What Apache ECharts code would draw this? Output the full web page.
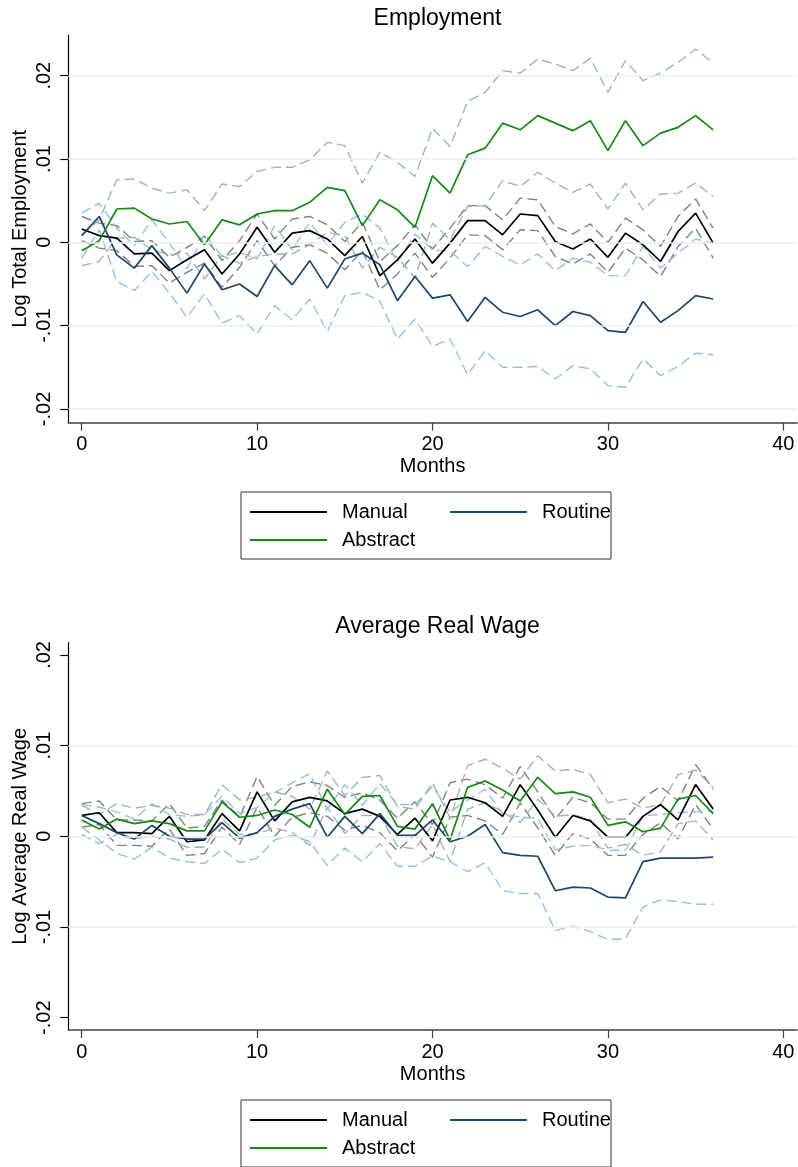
<!DOCTYPE html>
<html>
<head>
    <meta charset="utf-8" />
    <title>Employment and Average Real Wage</title>
    <script src="https://cdn.jsdelivr.net/npm/echarts@6.0.0/dist/echarts.min.js"></script>
</head>
<body style="margin:0;padding:0;background:#ffffff;">
    <div id="main" style="width:798px;height:1167px;"></div>
    <script type="text/javascript">
        /*************************************************************
        * data
        *************************************************************/
        var months = [0,1,2,3,4,5,6,7,8,9,10,11,12,13,14,15,16,17,18,19,20,21,22,23,24,25,26,27,28,29,30,31,32,33,34,35,36];
        var xTicks = [0, 10, 20, 30, 40];
        var yTicks = [-0.02, -0.01, 0, 0.01, 0.02];
        var empGrid = [-0.02, -0.01, 0, 0.01, 0.02];
        var wageGrid = [-0.01, 0, 0.01];
        var legendNames = ['Manual', 'Routine', 'Abstract'];

        // Employment
        var empManual = [0.0016,0.0008,0.0005,-0.0014,-0.0013,-0.0034,-0.0021,-0.0009,-0.0038,-0.0014, 0.0018,-0.0012,0.0011,0.0014,0.0004,-0.0016,0.0007,-0.0040,-0.0021,0.0004, -0.0025,-0.0001,0.0026,0.0026,0.0009,0.0034,0.0032,0.0001,-0.0008,0.0004, -0.0018,0.0011,-0.0003,-0.0023,0.0013,0.0035,-0.0001];
        var empManualHi = [0.0031,0.0023,0.0020,0.0001,0.0002,-0.0018,-0.0006,0.0007,-0.0022,0.0002, 0.0034,0.0004,0.0028,0.0031,0.0021,0.0001,0.0024,-0.0023,-0.0004,0.0021, -0.0008,0.0017,0.0044,0.0044,0.0027,0.0053,0.0051,0.0019,0.0010,0.0022, 0.0000,0.0029,0.0015,-0.0005,0.0031,0.0052,0.0017];
        var empManualLo = [0.0002,-0.0007,-0.0010,-0.0029,-0.0028,-0.0049,-0.0036,-0.0025,-0.0054,-0.0030, 0.0002,-0.0028,-0.0006,-0.0003,-0.0013,-0.0033,-0.0010,-0.0057,-0.0038,-0.0013, -0.0042,-0.0019,0.0009,0.0008,-0.0009,0.0015,0.0014,-0.0017,-0.0026,-0.0014, -0.0036,-0.0007,-0.0021,-0.0041,-0.0005,0.0017,-0.0019];
        var empRoutine = [0.0008,0.0031,-0.0015,-0.0031,-0.0004,-0.0031,-0.0061,-0.0026,-0.0057,-0.0050, -0.0065,-0.0028,-0.0051,-0.0022,-0.0055,-0.0020,-0.0013,-0.0027,-0.0070,-0.0041, -0.0067,-0.0063,-0.0095,-0.0066,-0.0084,-0.0089,-0.0081,-0.0100,-0.0083,-0.0088, -0.0106,-0.0108,-0.0071,-0.0096,-0.0082,-0.0064,-0.0068];
        var empRoutineHi = [0.0035,0.0047,0.0017,-0.0004,0.0027,-0.0001,-0.0032,0.0010,-0.0017,-0.0012, -0.0020,0.0020,-0.0009,0.0024,-0.0003,0.0024,0.0034,0.0017,-0.0024,0.0010, -0.0009,-0.0011,-0.0029,-0.0005,-0.0017,-0.0027,-0.0014,-0.0034,-0.0019,-0.0024, -0.0040,-0.0040,-0.0005,-0.0031,-0.0013,0.0004,-0.0001];
        var empRoutineLo = [-0.0019,0.0015,-0.0047,-0.0058,-0.0035,-0.0061,-0.0090,-0.0062,-0.0097,-0.0088, -0.0110,-0.0076,-0.0093,-0.0068,-0.0107,-0.0064,-0.0060,-0.0071,-0.0116,-0.0092, -0.0125,-0.0116,-0.0159,-0.0130,-0.0150,-0.0150,-0.0149,-0.0164,-0.0148,-0.0152, -0.0172,-0.0174,-0.0140,-0.0160,-0.0149,-0.0133,-0.0135];
        var empAbstract = [-0.0010,0.0002,0.0040,0.0041,0.0028,0.0022,0.0025,-0.0003,0.0027,0.0021, 0.0034,0.0038,0.0038,0.0048,0.0066,0.0062,0.0020,0.0051,0.0039,0.0018, 0.0080,0.0059,0.0105,0.0113,0.0143,0.0135,0.0152,0.0143,0.0134,0.0146, 0.0110,0.0146,0.0116,0.0131,0.0138,0.0152,0.0135];
        var empAbstractHi = [0.0008,0.0027,0.0075,0.0076,0.0065,0.0059,0.0063,0.0038,0.0070,0.0067, 0.0085,0.0090,0.0090,0.0099,0.0120,0.0116,0.0071,0.0108,0.0096,0.0079, 0.0137,0.0115,0.0169,0.0180,0.0206,0.0203,0.0220,0.0214,0.0206,0.0221, 0.0180,0.0218,0.0194,0.0203,0.0216,0.0232,0.0215];
        var empAbstractLo = [-0.0028,-0.0023,0.0005,0.0006,-0.0009,-0.0015,-0.0013,-0.0044,-0.0016,-0.0025, -0.0017,-0.0014,-0.0014,-0.0003,0.0012,0.0008,-0.0031,-0.0006,-0.0018,-0.0043, 0.0023,0.0003,0.0043,0.0044,0.0074,0.0067,0.0084,0.0071,0.0060,0.0070, 0.0040,0.0071,0.0039,0.0058,0.0059,0.0071,0.0055];

        // Average real wage
        var wageManual = [0.0023,0.0026,0.0004,0.0004,0.0003,0.0022,-0.0006,-0.0004,0.0025,0.0006, 0.0049,0.0017,0.0038,0.0043,0.0039,0.0025,0.0030,0.0022,0.0002,0.0020, -0.0005,0.0040,0.0043,0.0037,0.0022,0.0057,0.0029,-0.0001,0.0023,0.0017, -0.0001,-0.0001,0.0022,0.0035,0.0018,0.0057,0.0030];
        var wageManualHi = [0.0036,0.0039,0.0018,0.0018,0.0017,0.0036,0.0009,0.0011,0.0040,0.0021, 0.0066,0.0034,0.0055,0.0060,0.0056,0.0043,0.0048,0.0040,0.0020,0.0038, 0.0013,0.0059,0.0063,0.0057,0.0042,0.0077,0.0049,0.0019,0.0043,0.0037, 0.0019,0.0019,0.0042,0.0055,0.0039,0.0079,0.0052];
        var wageManualLo = [0.0010,0.0013,-0.0010,-0.0010,-0.0011,0.0008,-0.0021,-0.0019,0.0010,-0.0009, 0.0032,0.0000,0.0021,0.0026,0.0022,0.0007,0.0012,0.0004,-0.0016,0.0002, -0.0023,0.0021,0.0023,0.0017,0.0002,0.0037,0.0009,-0.0021,0.0003,-0.0003, -0.0021,-0.0021,0.0002,0.0015,-0.0003,0.0035,0.0008];
        var wageRoutine = [0.0023,0.0014,0.0004,-0.0003,0.0012,0.0000,-0.0003,-0.0003,0.0015,-0.0002, 0.0004,0.0022,0.0030,0.0036,-0.0001,0.0022,0.0003,0.0025,0.0001,0.0001, 0.0018,-0.0006,0.0000,0.0013,-0.0018,-0.0021,-0.0022,-0.0060,-0.0056,-0.0057, -0.0067,-0.0068,-0.0028,-0.0024,-0.0024,-0.0024,-0.0023];
        var wageRoutineHi = [0.0035,0.0032,0.0027,0.0019,0.0036,0.0024,0.0022,0.0024,0.0044,0.0025, 0.0032,0.0048,0.0059,0.0069,0.0030,0.0057,0.0034,0.0058,0.0035,0.0035, 0.0055,0.0027,0.0040,0.0052,0.0025,0.0021,0.0020,-0.0015,-0.0011,-0.0010, -0.0015,-0.0016,0.0023,0.0024,0.0026,0.0027,0.0028];
        var wageRoutineLo = [0.0010,-0.0004,-0.0019,-0.0025,-0.0012,-0.0024,-0.0028,-0.0030,-0.0014,-0.0029, -0.0024,-0.0004,0.0001,-0.0006,-0.0032,-0.0013,-0.0028,-0.0008,-0.0033,-0.0033, -0.0022,-0.0028,-0.0039,-0.0029,-0.0060,-0.0063,-0.0063,-0.0104,-0.0099,-0.0105, -0.0114,-0.0113,-0.0078,-0.0070,-0.0072,-0.0075,-0.0075];
        var wageAbstract = [0.0018,0.0008,0.0019,0.0014,0.0017,0.0014,0.0006,0.0006,0.0038,0.0021, 0.0023,0.0029,0.0024,0.0010,0.0052,0.0024,0.0044,0.0045,0.0011,0.0008, 0.0036,-0.0004,0.0054,0.0061,0.0051,0.0039,0.0065,0.0047,0.0049,0.0043, 0.0012,0.0016,0.0005,0.0009,0.0041,0.0045,0.0025];
        var wageAbstractHi = [0.0034,0.0024,0.0036,0.0031,0.0034,0.0031,0.0024,0.0024,0.0057,0.0040, 0.0043,0.0049,0.0044,0.0030,0.0072,0.0045,0.0065,0.0067,0.0033,0.0030, 0.0059,0.0020,0.0078,0.0085,0.0075,0.0063,0.0089,0.0072,0.0074,0.0068, 0.0037,0.0041,0.0031,0.0035,0.0068,0.0073,0.0054];
        var wageAbstractLo = [0.0002,-0.0008,0.0002,-0.0003,0.0000,-0.0003,-0.0012,-0.0012,0.0019,0.0002, 0.0003,0.0009,0.0004,-0.0010,0.0032,0.0003,0.0023,0.0023,-0.0011,-0.0014, 0.0013,-0.0028,0.0030,0.0037,0.0027,0.0015,0.0041,0.0022,0.0024,0.0018, -0.0013,-0.0009,-0.0021,-0.0017,0.0014,0.0017,-0.0004];

        /*************************************************************
        * styles
        *************************************************************/
        var FONT = "'Liberation Sans', Arial, sans-serif";
        var cManual = '#000000', cRoutine = '#1a476f', cAbstract = '#138a13';
        var cManualCI = '#828282', cRoutineCI = '#8ec2ea', cAbstractCI = '#9db8ad';
        var cGrid = '#e8eff1';

        function pairs(vals) {
            var out = [];
            for (var i = 0; i < months.length; i++) out.push([months[i], vals[i]]);
            return out;
        }

        function line(name, vals, color, dashed, idx) {
            return {
                name: name, type: 'line', xAxisIndex: idx, yAxisIndex: idx,
                data: pairs(vals), symbol: 'none', showSymbol: false, silent: true,
                color: color, itemStyle: { color: color },
                lineStyle: { color: color, width: dashed ? 1.4 : 1.7, type: dashed ? [10, 5] : 'solid' },
                z: dashed ? 3 : 4
            };
        }

        function gridLines(vals, idx) {
            var d = [];
            for (var i = 0; i < vals.length; i++) d.push({ yAxis: vals[i] });
            return {
                name: 'grid' + idx, type: 'line', xAxisIndex: idx, yAxisIndex: idx, data: [], z: 1, silent: true,
                markLine: { symbol: 'none', silent: true, label: { show: false }, animation: false,
                    lineStyle: { color: cGrid, width: 1.5, type: 'solid' }, data: d }
            };
        }

        function fmtY(v) {
            if (Math.abs(v) < 1e-9) return '0';
            return (v < 0 ? '-' : '') + Math.abs(v).toFixed(2).replace(/^0/, '');
        }

        function xAxis(idx) {
            return {
                type: 'value', gridIndex: idx, min: -0.764, max: 40.78,
                splitLine: { show: false },
                axisLine: { show: true, onZero: false, lineStyle: { color: '#404040', width: 1.5 } },
                axisTick: { show: true, length: 8, customValues: xTicks, lineStyle: { color: '#404040', width: 1.2 } },
                axisLabel: { customValues: xTicks, margin: 12, fontSize: 20, color: '#000', fontFamily: FONT },
                name: 'Months', nameLocation: 'middle', nameGap: 34, nameMoveOverlap: false,
                nameTextStyle: { fontSize: 20, color: '#000', fontFamily: FONT }
            };
        }

        function yAxis(idx, min, max, title) {
            return {
                type: 'value', gridIndex: idx, min: min, max: max,
                splitLine: { show: false },
                axisLine: { show: true, onZero: false, lineStyle: { color: '#000', width: 1.2 } },
                axisTick: { show: true, length: 8, customValues: yTicks, lineStyle: { color: '#000', width: 1.2 } },
                axisLabel: { customValues: yTicks, rotate: 90, margin: 14, fontSize: 20, color: '#000', fontFamily: FONT, formatter: fmtY },
                name: title, nameLocation: 'middle', nameRotate: 90, nameGap: 38, nameMoveOverlap: false,
                nameTextStyle: { fontSize: 20, color: '#000', fontFamily: FONT }
            };
        }

        function legend(top) {
            return {
                data: [{ name: 'Manual', textStyle: { width: 102 } }, { name: 'Routine', textStyle: { width: 69 } }, { name: 'Abstract' }],
                orient: 'horizontal', left: 241, top: top, width: 400,
                icon: 'rect', itemWidth: 77, itemHeight: 2, itemGap: 6,
                padding: [9, 0, 8, 9], borderColor: '#333', borderWidth: 1,
                selectedMode: false,
                textStyle: { fontSize: 20, color: '#000', fontFamily: FONT, lineHeight: 22, padding: [0, 0, 0, 10] }
            };
        }

        /*************************************************************
        * chart
        *************************************************************/
        var chart = echarts.init(document.getElementById('main'));
        var option = {
            animation: false,
            backgroundColor: '#ffffff',
            textStyle: { fontFamily: FONT },
            title: [
                { text: 'Employment', left: 432.5, textAlign: 'center', top: 2,
                  textStyle: { fontSize: 23, fontWeight: 'normal', color: '#000', fontFamily: FONT } },
                { text: 'Average Real Wage', left: 432.5, textAlign: 'center', top: 610,
                  textStyle: { fontSize: 23, fontWeight: 'normal', color: '#000', fontFamily: FONT } }
            ],
            legend: [legend(492), legend(1100)],
            grid: [
                { left: 68.3, right: 1, top: 35, height: 387.7, containLabel: false, outerBoundsMode: 'none' },
                { left: 68.3, right: 1, top: 642.7, height: 387.3, containLabel: false, outerBoundsMode: 'none' }
            ],
            xAxis: [xAxis(0), xAxis(1)],
            yAxis: [
                yAxis(0, -0.02165, 0.02488, 'Log Total Employment'),
                yAxis(1, -0.02136, 0.02135, 'Log Average Real Wage')
            ],
            series: [
                gridLines(empGrid, 0),
                line('Manual CI hi', empManualHi, cManualCI, true, 0),
                line('Manual CI lo', empManualLo, cManualCI, true, 0),
                line('Routine CI hi', empRoutineHi, cRoutineCI, true, 0),
                line('Routine CI lo', empRoutineLo, cRoutineCI, true, 0),
                line('Abstract CI hi', empAbstractHi, cAbstractCI, true, 0),
                line('Abstract CI lo', empAbstractLo, cAbstractCI, true, 0),
                line('Manual', empManual, cManual, false, 0),
                line('Routine', empRoutine, cRoutine, false, 0),
                line('Abstract', empAbstract, cAbstract, false, 0),

                gridLines(wageGrid, 1),
                line('Manual CI hi', wageManualHi, cManualCI, true, 1),
                line('Manual CI lo', wageManualLo, cManualCI, true, 1),
                line('Routine CI hi', wageRoutineHi, cRoutineCI, true, 1),
                line('Routine CI lo', wageRoutineLo, cRoutineCI, true, 1),
                line('Abstract CI hi', wageAbstractHi, cAbstractCI, true, 1),
                line('Abstract CI lo', wageAbstractLo, cAbstractCI, true, 1),
                line('Manual', wageManual, cManual, false, 1),
                line('Routine', wageRoutine, cRoutine, false, 1),
                line('Abstract', wageAbstract, cAbstract, false, 1)
            ]
        };
        chart.setOption(option);
    </script>
</body>
</html>
